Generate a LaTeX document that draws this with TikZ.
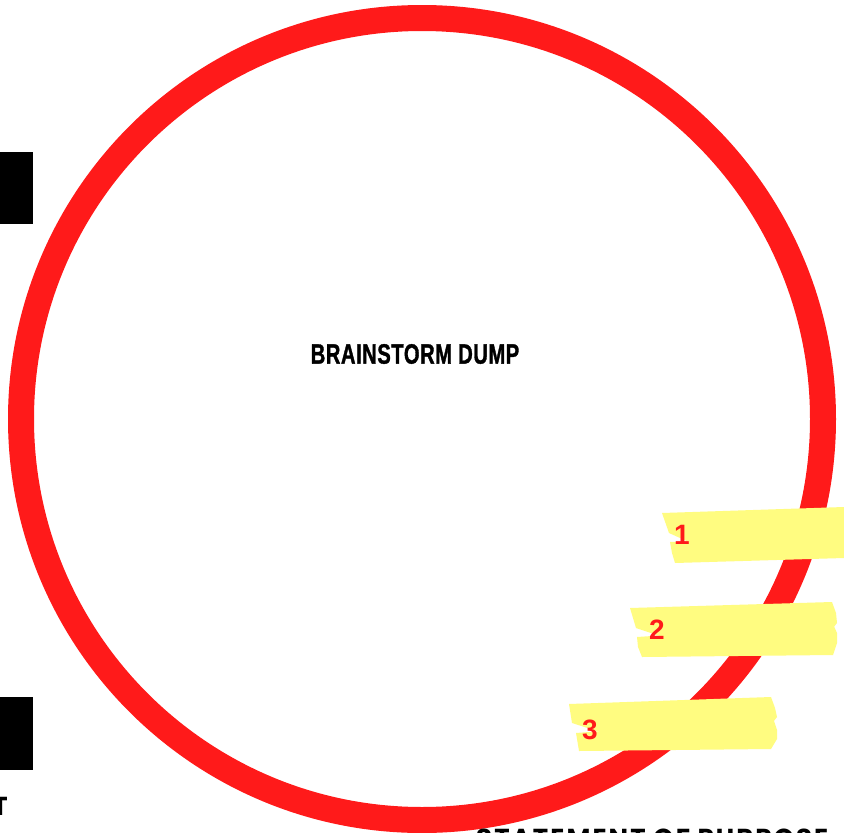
\documentclass[tikz,border=0pt]{standalone}
\usepackage{fontspec}
\setmainfont{Liberation Sans}
\newfontfamily\titlefont[FakeStretch=0.72,FakeBold=1.2,LetterSpace=2]{Liberation Sans}
\newfontfamily\footfont[LetterSpace=8]{Poppins}
\definecolor{ringred}{HTML}{FF1A1A}
\definecolor{tapeyellow}{HTML}{FFFC80}
\definecolor{inkblack}{HTML}{000000}

\begin{document}
\begin{tikzpicture}[
  x=1pt,y=-1pt,line join=round,
  ring/.style={ringred,line width=26pt},
  tape/.style={fill=tapeyellow,draw=none},
  tab/.style={fill=inkblack},
  numlabel/.style={text=ringred,font=\bfseries\fontsize{28}{30}\selectfont,inner sep=0pt},
  title/.style={text=inkblack,font=\titlefont\bfseries\fontsize{28}{30}\selectfont,inner sep=0pt},
  footer/.style={text=inkblack,font=\footfont\bfseries\fontsize{26}{28}\selectfont,inner sep=0pt}
]
  \fill[white] (0,0) rectangle (844,833);
  \clip (0,0) rectangle (844,833);

  % Black tabs on the left edge.
  \fill[tab] (0,152) rectangle (33,224);
  \fill[tab] (0,697) rectangle (33,770);

  % The big red ring.
  \coordinate (C) at (422,419);
  \draw[ring] (C) circle[radius=401];

  % Yellow tape strips, laid over the ring.
  \fill[tape] (662,513) -- (844,507) -- (844,546) -- (700,547) -- (669,533) -- cycle;
  \fill[tape] (670,542) -- (844,537) -- (844,558) -- (675,563) -- (672,553) -- cycle;
  \fill[tape] (630,608) -- (832,602) -- (836,613) -- (837,623) -- (830,632)
    -- (660,636) -- (636,628) -- cycle;
  \fill[tape] (637,637) -- (833,624) -- (837,633) -- (837,643) -- (833,655)
    -- (642,657) -- (638,647) -- cycle;
  \fill[tape] (569,704) -- (771,697) -- (775,708) -- (777,717) -- (770,726)
    -- (600,732) -- (572,723) -- cycle;
  \fill[tape] (576,733) -- (773,718) -- (777,730) -- (777,739) -- (771,749)
    -- (579,751) -- cycle;

  % Numbers on the tapes.
  \foreach \n/\x/\y in {1/682/535,2/657/630,3/590/730} {
    \node[numlabel] (num\n) at (\x,\y) {\n};
  }

  % Labels.
  \node[title] (dump) at (415,354) {BRAINSTORM DUMP};
  \node[footer,anchor=base west] (purpose) at (476,847) {STATEMENT OF PURPOSE};
  \node[footer,anchor=base east] (cutT) at (8,815) {T};
\end{tikzpicture}
\end{document}
